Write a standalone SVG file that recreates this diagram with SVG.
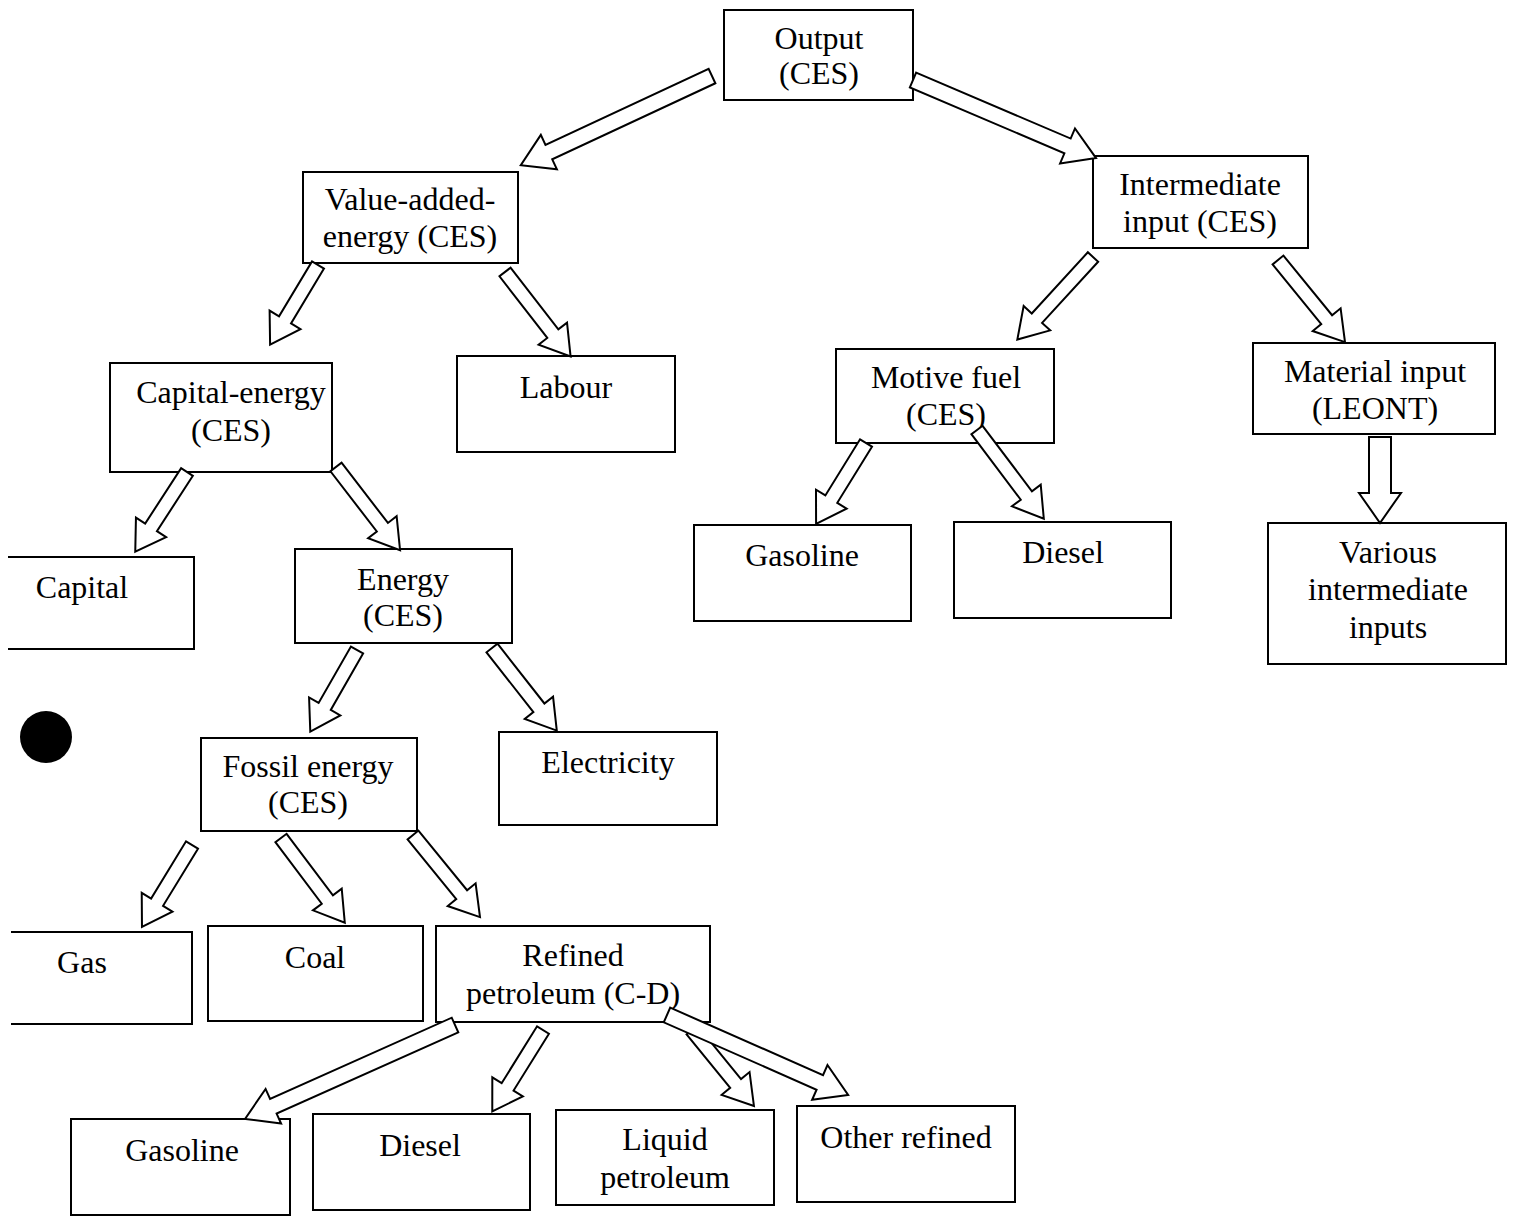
<svg xmlns="http://www.w3.org/2000/svg" width="1515" height="1217" viewBox="0 0 1515 1217">
<style>
.box{fill:#fff;stroke:#000;stroke-width:2}
.open{fill:none;stroke:#000;stroke-width:2}
.t{font-family:"Liberation Serif","Times New Roman",serif;font-size:32px;fill:#000;text-anchor:middle}
.arr{fill:#fff;stroke:#000;stroke-width:2;stroke-linejoin:miter}
</style>
<rect width="1515" height="1217" fill="#fff"/>
<g id="output"><rect class="box" x="724" y="10" width="189" height="90"/><text class="t" x="819" y="49">Output</text><text class="t" x="819" y="84">(CES)</text></g>
<g id="value-added"><rect class="box" x="303" y="172" width="215" height="91"/><text class="t" x="410" y="210">Value-added-</text><text class="t" x="410" y="247">energy (CES)</text></g>
<g id="intermediate"><rect class="box" x="1093" y="156" width="215" height="92"/><text class="t" x="1200" y="195">Intermediate</text><text class="t" x="1200" y="232">input (CES)</text></g>
<g id="capital-energy"><rect class="box" x="110" y="363" width="222" height="109"/><text class="t" x="231" y="403">Capital-energy</text><text class="t" x="231" y="441">(CES)</text></g>
<g id="labour"><rect class="box" x="457" y="356" width="218" height="96"/><text class="t" x="566" y="398">Labour</text></g>
<g id="motive-fuel"><rect class="box" x="836" y="349" width="218" height="94"/><text class="t" x="946" y="388">Motive fuel</text><text class="t" x="946" y="425">(CES)</text></g>
<g id="material-input"><rect class="box" x="1253" y="343" width="242" height="91"/><text class="t" x="1375" y="382">Material input</text><text class="t" x="1375" y="419">(LEONT)</text></g>
<g id="capital"><path class="open" d="M8,557 H194 V649 H8"/><text class="t" x="82" y="598">Capital</text></g>
<g id="energy"><rect class="box" x="295" y="549" width="217" height="94"/><text class="t" x="403" y="590">Energy</text><text class="t" x="403" y="626">(CES)</text></g>
<g id="gasoline-top"><rect class="box" x="694" y="525" width="217" height="96"/><text class="t" x="802" y="566">Gasoline</text></g>
<g id="diesel-top"><rect class="box" x="954" y="522" width="217" height="96"/><text class="t" x="1063" y="563">Diesel</text></g>
<g id="various"><rect class="box" x="1268" y="523" width="238" height="141"/><text class="t" x="1388" y="563">Various</text><text class="t" x="1388" y="600">intermediate</text><text class="t" x="1388" y="638">inputs</text></g>
<g id="electricity"><rect class="box" x="499" y="732" width="218" height="93"/><text class="t" x="608" y="773">Electricity</text></g>
<g id="fossil"><rect class="box" x="201" y="738" width="216" height="93"/><text class="t" x="308" y="777">Fossil energy</text><text class="t" x="308" y="813">(CES)</text></g>
<g id="gas"><path class="open" d="M11,932 H192 V1024 H11"/><text class="t" x="82" y="973">Gas</text></g>
<g id="coal"><rect class="box" x="208" y="926" width="215" height="95"/><text class="t" x="315" y="968">Coal</text></g>
<g id="refined"><rect class="box" x="436" y="926" width="274" height="96"/><text class="t" x="573" y="966">Refined</text><text class="t" x="573" y="1004">petroleum (C-D)</text></g>
<g id="gasoline-bottom"><rect class="box" x="71" y="1119" width="219" height="96"/><text class="t" x="182" y="1161">Gasoline</text></g>
<g id="diesel-bottom"><rect class="box" x="313" y="1114" width="217" height="96"/><text class="t" x="420" y="1156">Diesel</text></g>
<g id="liquid"><rect class="box" x="556" y="1110" width="218" height="95"/><text class="t" x="665" y="1150">Liquid</text><text class="t" x="665" y="1188">petroleum</text></g>
<g id="other-refined"><rect class="box" x="797" y="1106" width="218" height="96"/><text class="t" x="906" y="1148">Other refined</text></g>
<circle cx="46" cy="737" r="26" fill="#000"/>
<g id="connectors">
<path class="arr" transform="translate(712,76) rotate(155)" d="M0,-8 H180 V-19 L211,0 L180,19 V8 H0 Z"/>
<path class="arr" transform="translate(913,80) rotate(23.1)" d="M0,-8 H168 V-19 L199,0 L168,19 V8 H0 Z"/>
<path class="arr" transform="translate(318,265) rotate(121)" d="M0,-7 H64 V-18 L93,0 L64,18 V7 H0 Z"/>
<path class="arr" transform="translate(505,272) rotate(52.2)" d="M0,-7 H78 V-18 L107,0 L78,18 V7 H0 Z"/>
<path class="arr" transform="translate(187,472) rotate(123)" d="M0,-7 H66 V-18 L95,0 L66,18 V7 H0 Z"/>
<path class="arr" transform="translate(336,467) rotate(52.4)" d="M0,-7 H76 V-18 L105,0 L76,18 V7 H0 Z"/>
<path class="arr" transform="translate(357,650) rotate(119.8)" d="M0,-7 H65 V-18 L94,0 L65,18 V7 H0 Z"/>
<path class="arr" transform="translate(492,648) rotate(51.9)" d="M0,-7 H76 V-18 L105,0 L76,18 V7 H0 Z"/>
<path class="arr" transform="translate(192,845) rotate(121.4)" d="M0,-7 H67 V-18 L96,0 L67,18 V7 H0 Z"/>
<path class="arr" transform="translate(281,838) rotate(53)" d="M0,-7 H77 V-18 L106,0 L77,18 V7 H0 Z"/>
<path class="arr" transform="translate(413,835) rotate(50.8)" d="M0,-7 H77 V-18 L106,0 L77,18 V7 H0 Z"/>
<path class="arr" transform="translate(1093,257) rotate(132.5)" d="M0,-7 H83 V-18 L112,0 L83,18 V7 H0 Z"/>
<path class="arr" transform="translate(1278,260) rotate(50.8)" d="M0,-7 H77 V-18 L106,0 L77,18 V7 H0 Z"/>
<path class="arr" transform="translate(866,443) rotate(121.7)" d="M0,-7 H66 V-18 L95,0 L66,18 V7 H0 Z"/>
<path class="arr" transform="translate(977,430) rotate(53)" d="M0,-7 H82 V-18 L111,0 L82,18 V7 H0 Z"/>
<path class="arr" transform="translate(1380,437) rotate(90)" d="M0,-11 H56 V-21 L86,0 L56,21 V11 H0 Z"/>
<path class="arr" transform="translate(455,1025) rotate(155.9)" d="M0,-8 H199 V-19 L230,0 L199,19 V8 H0 Z"/>
<path class="arr" transform="translate(543,1030) rotate(121.9)" d="M0,-7 H67 V-18 L96,0 L67,18 V7 H0 Z"/>
<path class="arr" transform="translate(692,1030) rotate(50.8)" d="M0,-7 H69 V-18 L98,0 L69,18 V7 H0 Z"/>
<path class="arr" transform="translate(667,1015) rotate(23.8)" d="M0,-8 H167 V-19 L198,0 L167,19 V8 H0 Z"/>
</g>
</svg>
